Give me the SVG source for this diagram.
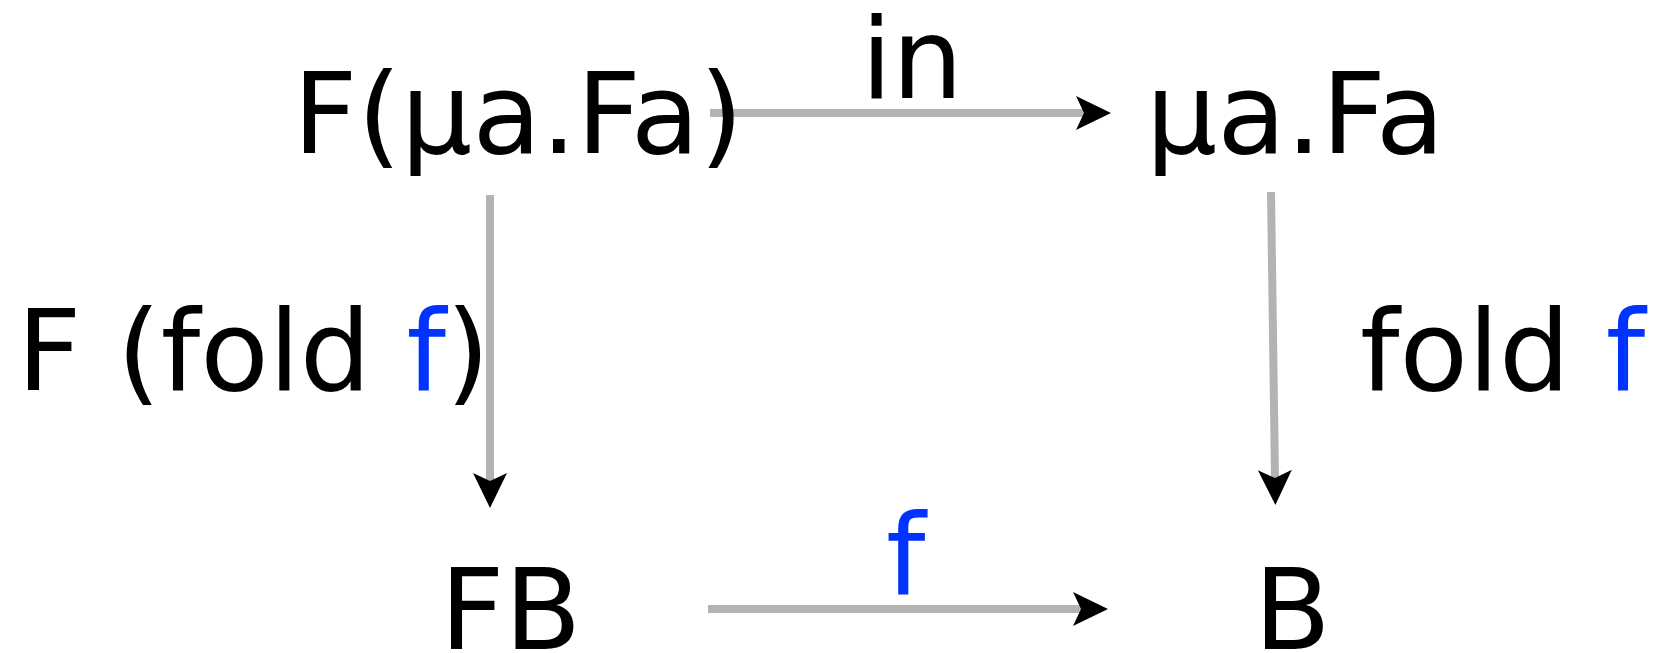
<svg xmlns="http://www.w3.org/2000/svg" width="1654" height="653" viewBox="0 0 1654 653">
<defs>
<style>
text{font-family:"DejaVu Sans","Liberation Sans",sans-serif;font-size:112px;fill:#000}
.b{fill:#0033ff}
.c{stroke:#b3b3b3;stroke-width:8;fill:none}
</style>
<marker id="ah" markerUnits="userSpaceOnUse" viewBox="0 -18 36 36" refX="8" refY="0" markerWidth="36" markerHeight="36" orient="auto" overflow="visible">
<path d="M0,-17 L35,0 L0,17 L8,0 Z" fill="#000"/>
</marker>
</defs>
<rect width="1654" height="653" fill="#fff"/>
<g id="connectors">
<line class="c" x1="710" y1="113" x2="1084" y2="113" marker-end="url(#ah)"/>
<line class="c" x1="708" y1="609" x2="1081" y2="609" marker-end="url(#ah)"/>
<line class="c" x1="490" y1="195" x2="490" y2="481" marker-end="url(#ah)"/>
<line class="c" x1="1271" y1="192" x2="1275" y2="478" marker-end="url(#ah)"/>
<text x="861" y="98">in</text>
<text x="886" y="594" class="b">f</text>
<text x="17" y="390">F (fold <tspan class="b">f</tspan>)</text>
<text x="1360" y="390">fold <tspan class="b">f</tspan></text>
</g>
<g id="n1"><text x="293" y="153">F(μa.Fa)</text></g>
<g id="n2"><text x="1146" y="153">μa.Fa</text></g>
<g id="n3"><text x="440" y="649">FB</text></g>
<g id="n4"><text x="1254" y="649">B</text></g>
</svg>
